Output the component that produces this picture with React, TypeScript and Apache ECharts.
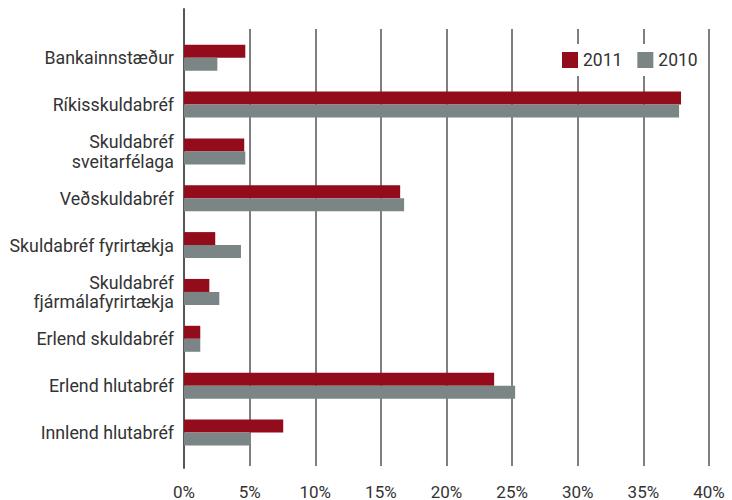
import React, { useEffect, useRef } from "react";
import * as echarts from "echarts";

const categories = [
  "Bankainnstæður",
  "Ríkisskuldabréf",
  "Skuldabréf\nsveitarfélaga",
  "Veðskuldabréf",
  "Skuldabréf fyrirtækja",
  "Skuldabréf\nfjármálafyrirtækja",
  "Erlend skuldabréf",
  "Erlend hlutabréf",
  "Innlend hlutabréf",
];
const values2011 = [4.67, 37.87, 4.59, 16.47, 2.38, 1.93, 1.24, 23.63, 7.56];
const values2010 = [2.54, 37.72, 4.67, 16.77, 4.34, 2.69, 1.24, 25.23, 5.1];
const xTicks = { min: 0, max: 40, interval: 5 };

const FONT = "Roboto";
const TEXT = "#333";

export default function App() {
  const ref = useRef<HTMLDivElement>(null);
  useEffect(() => {
    if (!ref.current) return;
    const chart = echarts.init(ref.current, null, { renderer: "svg" });
    chart.setOption({
      animation: false,
      textStyle: { fontFamily: FONT },
      legend: {
        data: ["2011", "2010"],
        left: 556,
        top: 44,
        padding: [7, 6],
        itemWidth: 16,
        itemHeight: 16,
        itemGap: 15,
        icon: "rect",
        backgroundColor: "#fff",
        textStyle: { fontSize: 17.5, color: TEXT, fontFamily: FONT },
      },
      grid: [
        { left: 184, right: 23, top: 29, bottom: 32 },
        { left: 184, right: 23, top: 34.3, bottom: 44.1 },
        { left: 184, right: 23, top: 9, bottom: 32 },
      ],
      xAxis: [
        {
          gridIndex: 0,
          type: "value",
          min: xTicks.min,
          max: xTicks.max,
          interval: xTicks.interval,
          axisLine: { show: false },
          axisTick: { show: false },
          splitLine: { show: true, lineStyle: { color: "#555", width: 1.5 } },
          axisLabel: {
            formatter: "{value}%",
            margin: 17,
            fontSize: 17,
            color: TEXT,
            fontFamily: FONT,
          },
        },
        {
          gridIndex: 1,
          type: "value",
          min: xTicks.min,
          max: xTicks.max,
          show: false,
        },
        {
          gridIndex: 2,
          type: "value",
          min: xTicks.min,
          max: xTicks.max,
          show: false,
        },
      ],
      yAxis: [
        { gridIndex: 0, type: "value", show: false },
        {
          gridIndex: 1,
          type: "category",
          data: categories,
          inverse: true,
          axisLine: { show: false },
          axisTick: { show: false },
          axisLabel: {
            margin: 10,
            fontSize: 17.8,
            lineHeight: 19.5,
            color: TEXT,
            fontFamily: FONT,
            align: "right",
          },
        },
        {
          gridIndex: 2,
          type: "value",
          axisLine: { show: true, lineStyle: { color: "#555", width: 2 } },
          axisTick: { show: false },
          axisLabel: { show: false },
          splitLine: { show: false },
        },
      ],
      series: [
        {
          name: "2011",
          type: "bar",
          xAxisIndex: 1,
          yAxisIndex: 1,
          data: values2011,
          barWidth: 13,
          barGap: "0%",
          itemStyle: { color: "#920c1b" },
          z: 3,
        },
        {
          name: "2010",
          type: "bar",
          xAxisIndex: 1,
          yAxisIndex: 1,
          data: values2010,
          barWidth: 13,
          barGap: "0%",
          itemStyle: { color: "#7b8585" },
          z: 3,
        },
      ],
    });
    return () => chart.dispose();
  }, []);
  return (
    <div
      ref={ref}
      style={{ position: "absolute", left: 0, top: 0, width: 732, height: 500 }}
    />
  );
}
